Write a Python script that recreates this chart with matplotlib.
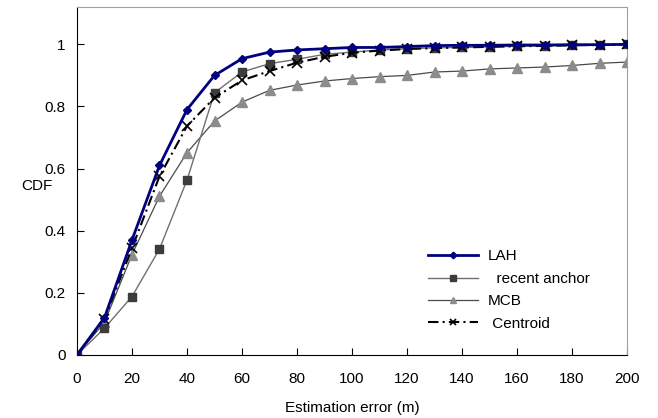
import matplotlib
matplotlib.use("Agg")
import matplotlib.pyplot as plt

plt.rcParams["font.family"] = ["Liberation Sans", "DejaVu Sans"]

error_m = [0, 10, 20, 30, 40, 50, 60, 70, 80, 90, 100,
           110, 120, 130, 140, 150, 160, 170, 180, 190, 200]

lah = [0, 0.12, 0.37, 0.61, 0.79, 0.90, 0.954, 0.975, 0.982, 0.986, 0.99,
       0.99, 0.993, 0.996, 0.997, 0.997, 0.998, 0.998, 0.999, 0.999, 1.0]
recent_anchor = [0, 0.086, 0.188, 0.341, 0.563, 0.844, 0.911, 0.938, 0.952, 0.968, 0.975,
                 0.982, 0.986, 0.989, 0.99, 0.992, 0.994, 0.995, 0.997, 0.998, 1.0]
mcb = [0, 0.105, 0.323, 0.511, 0.651, 0.753, 0.814, 0.852, 0.869, 0.882, 0.89,
       0.896, 0.90, 0.911, 0.914, 0.921, 0.924, 0.927, 0.932, 0.939, 0.943]
centroid = [0, 0.115, 0.344, 0.575, 0.737, 0.828, 0.884, 0.914, 0.941, 0.96, 0.973,
            0.98, 0.985, 0.988, 0.99, 0.992, 0.994, 0.995, 0.997, 0.998, 1.0]

fig = plt.figure(figsize=(6.58, 4.18), dpi=100)
ax = fig.add_axes([0.117, 0.151, 0.836, 0.832])

ax.plot(error_m, lah, color="#000080", lw=2.0, marker="D", ms=4.5,
        label="LAH", zorder=5)
ax.plot(error_m, recent_anchor, color="#707070", lw=1.0, marker="s", ms=6,
        markerfacecolor="#3c3c3c", markeredgecolor="#3c3c3c",
        label="  recent anchor", zorder=3)
ax.plot(error_m, mcb, color="#4a4a4a", lw=0.9, marker="^", ms=6.5,
        markerfacecolor="#8c8c8c", markeredgecolor="#8c8c8c",
        label="MCB", zorder=2)
ax.plot(error_m, centroid, color="black", lw=1.5, ls=(0, (5, 2, 1, 2)),
        marker="x", ms=6.5, mew=1.2, label=" Centroid", zorder=4)

ax.set_xlim(0, 200)
ax.set_ylim(0, 1.12)
ax.set_xticks(range(0, 201, 20))
ax.set_yticks([0, 0.2, 0.4, 0.6, 0.8, 1.0])
ax.set_yticklabels(["0", "0.2", "0.4", "0.6", "0.8", "1"])
ax.tick_params(direction="in", length=5, width=0.8, labelsize=11)
ax.tick_params(axis="x", pad=12)
ax.tick_params(axis="y", pad=8)

for side in ["top", "right"]:
    ax.spines[side].set_color("#a0a0a0")
for side in ["left", "bottom"]:
    ax.spines[side].set_color("black")

ax.set_xlabel("Estimation error (m)", fontsize=11, labelpad=11)
fig.text(0.033, 0.555, "CDF", fontsize=11, ha="left", va="center")

ax.legend(frameon=False, loc="lower left", bbox_to_anchor=(0.613, 0.03),
          fontsize=11, handlelength=3.3, handletextpad=0.6, labelspacing=0.55,
          markerscale=0.75)

fig.savefig("out.png", dpi=100)
